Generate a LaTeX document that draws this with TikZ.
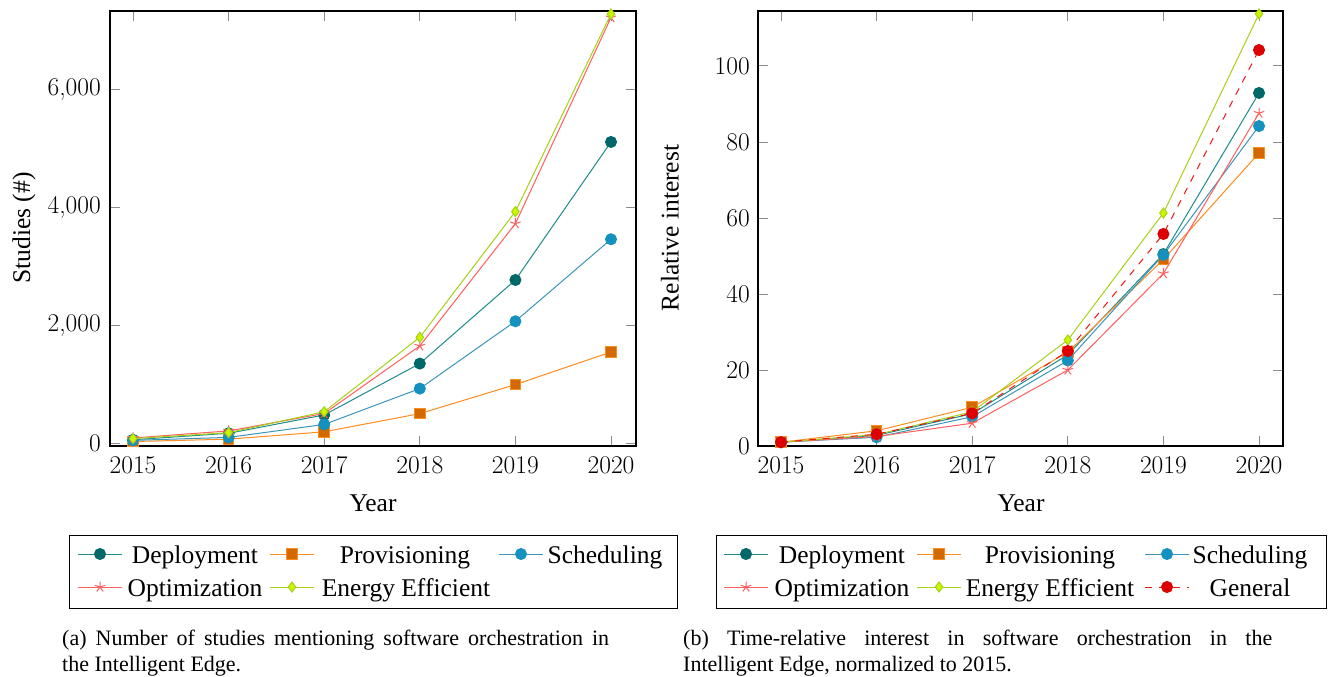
\documentclass[tikz,border=0pt]{standalone}
\usepackage{fontspec}
\setmainfont{Liberation Serif}
\newfontfamily\lmfont{Latin Modern Roman}
\usetikzlibrary{plotmarks}

\definecolor{depline}{RGB}{30,140,140}
\definecolor{depmark}{RGB}{0,104,104}
\definecolor{proline}{RGB}{255,140,30}
\definecolor{promark}{RGB}{210,105,0}
\definecolor{schline}{RGB}{60,150,185}
\definecolor{schmark}{RGB}{20,145,190}
\definecolor{optline}{RGB}{255,95,95}
\definecolor{eneline}{RGB}{165,210,20}
\definecolor{enemark}{RGB}{205,245,0}
\definecolor{genline}{RGB}{240,20,20}
\definecolor{genmark}{RGB}{220,0,0}

\tikzset{
  depstyle/.style={depline, line width=1pt, mark=*, mark size=5.5pt, mark options={solid, fill=depmark, draw=depmark}},
  prostyle/.style={proline, line width=1pt, mark=square*, mark size=5.3pt, mark options={solid, fill=promark, draw=proline}},
  schstyle/.style={schline, line width=1pt, mark=*, mark size=5.5pt, mark options={solid, fill=schmark, draw=schmark}},
  optstyle/.style={optline, line width=1pt, mark=star, mark size=5.5pt, mark options={solid, draw=optline}},
  enestyle/.style={eneline, line width=1pt, mark=diamond*, mark size=5pt, mark options={solid, fill=enemark, draw=eneline}},
  genstyle/.style={genline, line width=1pt, dash pattern=on 7pt off 7pt, mark=*, mark size=5.5pt, mark options={solid, fill=genmark, draw=genmark}},
  axisframe/.style={black, line width=1.1pt},
  tickstyle/.style={black!45, line width=1pt},
  plotfont/.style={font=\fontsize{25.5}{30}\selectfont},
  ticklab/.style={font=\fontsize{25.5}{30}\selectfont\lmfont, inner sep=0pt},
  xticklab/.style={ticklab, anchor=base},
  yticklab/.style={ticklab, anchor=east},
  legtext/.style={plotfont, anchor=base, inner sep=0pt},
  legbox/.style={black, line width=1pt},
  capfont/.style={font=\fontsize{22}{26}\selectfont, anchor=base west, inner sep=0pt}
}
\newcommand{\legimg}[3]{%
  \draw[#1, mark=none] (#2-22,#3) -- (#2+22,#3);
  \draw[#1] plot coordinates {(#2,#3)};}

\begin{document}
\begin{tikzpicture}[x=1pt,y=-1pt]
\useasboundingbox (0,0) rectangle (1338,677);
\fill[white] (0,0) rectangle (1338,677);

% ================= LEFT PLOT =================
\foreach \i in {0,...,5}{
  \draw[tickstyle] ({133+\i*95.6},446) -- ++(0,-10);
  \draw[tickstyle] ({133+\i*95.6},11) -- ++(0,10);
}
\foreach \v in {0,2000,4000,6000}{
  \draw[tickstyle] (110,{443.3-\v*0.059}) -- ++(10,0);
  \draw[tickstyle] (636,{443.3-\v*0.059}) -- ++(-10,0);
}
\draw[axisframe] (110,11) rectangle (636,446);

\node[yticklab] (ly0) at (101,443.3) {0};
\node[yticklab] (ly1) at (101,325.3) {2,000};
\node[yticklab] (ly2) at (101,207.3) {4,000};
\node[yticklab] (ly3) at (101,89.3) {6,000};
\node[xticklab] (lx0) at (133,473.5) {2015};
\node[xticklab] (lx1) at (228.6,473.5) {2016};
\node[xticklab] (lx2) at (324.2,473.5) {2017};
\node[xticklab] (lx3) at (419.8,473.5) {2018};
\node[xticklab] (lx4) at (515.4,473.5) {2019};
\node[xticklab] (lx5) at (611,473.5) {2020};
\node[plotfont, anchor=base] (lxlabel) at (373,511) {Year};
\node[plotfont, rotate=90] (lylabel) at (24,228) {Studies (\#)};

\begin{scope}[shift={(133,443.3)}, x=95.6pt, y=0.059pt]
  \draw[depstyle] plot coordinates {(0,60) (1,170) (2,480) (3,1351) (4,2768) (5,5107)};
  \draw[prostyle] plot coordinates {(0,30) (1,70) (2,195) (3,503) (4,995) (5,1547)};
  \draw[schstyle] plot coordinates {(0,50) (1,100) (2,320) (3,927) (4,2068) (5,3458)};
  \draw[optstyle] plot coordinates {(0,90) (1,210) (2,505) (3,1650) (4,3723) (5,7215)};
  \draw[enestyle] plot coordinates {(0,80) (1,180) (2,535) (3,1797) (4,3927) (5,7276)};
\end{scope}

% left legend
\draw[legbox] (69,535) rectangle (677,608);
\legimg{depstyle}{100}{554}
\node[legtext] (llt1) at (195,563) {Deployment};
\legimg{prostyle}{292}{554}
\node[legtext] (llt2) at (405,563) {Provisioning};
\legimg{schstyle}{521}{554}
\node[legtext] (llt3) at (605,563) {Scheduling};
\legimg{optstyle}{100}{587}
\node[legtext] (llt4) at (195,596) {Optimization};
\legimg{enestyle}{292}{587}
\node[legtext] (llt5) at (406,596) {Energy Efficient};

% ================= RIGHT PLOT =================
\foreach \i in {0,...,5}{
  \draw[tickstyle] ({781+\i*95.6},446) -- ++(0,-10);
  \draw[tickstyle] ({781+\i*95.6},11) -- ++(0,10);
}
\foreach \v in {20,40,60,80,100}{
  \draw[tickstyle] (758,{446-\v*3.8}) -- ++(10,0);
  \draw[tickstyle] (1283,{446-\v*3.8}) -- ++(-10,0);
}
\draw[axisframe] (758,11) rectangle (1283,446);

\node[yticklab] (ry0) at (750,446) {0};
\node[yticklab] (ry1) at (750,370) {20};
\node[yticklab] (ry2) at (750,294) {40};
\node[yticklab] (ry3) at (750,218) {60};
\node[yticklab] (ry4) at (750,142) {80};
\node[yticklab] (ry5) at (750,66) {100};
\node[xticklab] (rx0) at (781,473.5) {2015};
\node[xticklab] (rx1) at (876.6,473.5) {2016};
\node[xticklab] (rx2) at (972.2,473.5) {2017};
\node[xticklab] (rx3) at (1067.8,473.5) {2018};
\node[xticklab] (rx4) at (1163.4,473.5) {2019};
\node[xticklab] (rx5) at (1259,473.5) {2020};
\node[plotfont, anchor=base] (rxlabel) at (1021,511) {Year};
\node[plotfont, rotate=90] (rylabel) at (670,228) {Relative interest};

\begin{scope}[shift={(781,446)}, x=95.6pt, y=3.8pt]
  \draw[depstyle] plot coordinates {(0,1) (1,2.8) (2,8.5) (3,24) (4,50.5) (5,92.9)};
  \draw[prostyle] plot coordinates {(0,1) (1,4.0) (2,10.2) (3,24.7) (4,49.1) (5,77.1)};
  \draw[schstyle] plot coordinates {(0,1) (1,2.3) (2,7.7) (3,22.5) (4,50.3) (5,84.2)};
  \draw[optstyle] plot coordinates {(0,1) (1,2.5) (2,6.0) (3,20.0) (4,45.4) (5,87.6)};
  \draw[enestyle] plot coordinates {(0,1) (1,3.0) (2,9.0) (3,27.9) (4,61.3) (5,113.7)};
  \draw[genstyle] plot coordinates {(0,1) (1,3.1) (2,8.6) (3,25.0) (4,55.8) (5,104.2)};
\end{scope}

% right legend
\draw[legbox] (716,535) rectangle (1326,608);
\legimg{depstyle}{746}{554}
\node[legtext] (rlt1) at (842,563) {Deployment};
\legimg{prostyle}{939}{554}
\node[legtext] (rlt2) at (1050,563) {Provisioning};
\legimg{schstyle}{1167}{554}
\node[legtext] (rlt3) at (1250,563) {Scheduling};
\legimg{optstyle}{746}{587}
\node[legtext] (rlt4) at (842,596) {Optimization};
\legimg{enestyle}{939}{587}
\node[legtext] (rlt5) at (1050,596) {Energy Efficient};
\legimg{genstyle}{1167}{587}
\node[legtext] (rlt6) at (1250,596) {General};

% captions
\node[capfont] (capa1) at (62,645) {\makebox[547pt][s]{(a) Number of studies mentioning software orchestration in}};
\node[capfont] (capa2) at (62,671) {the Intelligent Edge.};
\node[capfont] (capb1) at (683,645) {\makebox[589pt][s]{(b) Time-relative interest in software orchestration in the}};
\node[capfont] (capb2) at (683,671) {Intelligent Edge, normalized to 2015.};
\end{tikzpicture}
\end{document}
